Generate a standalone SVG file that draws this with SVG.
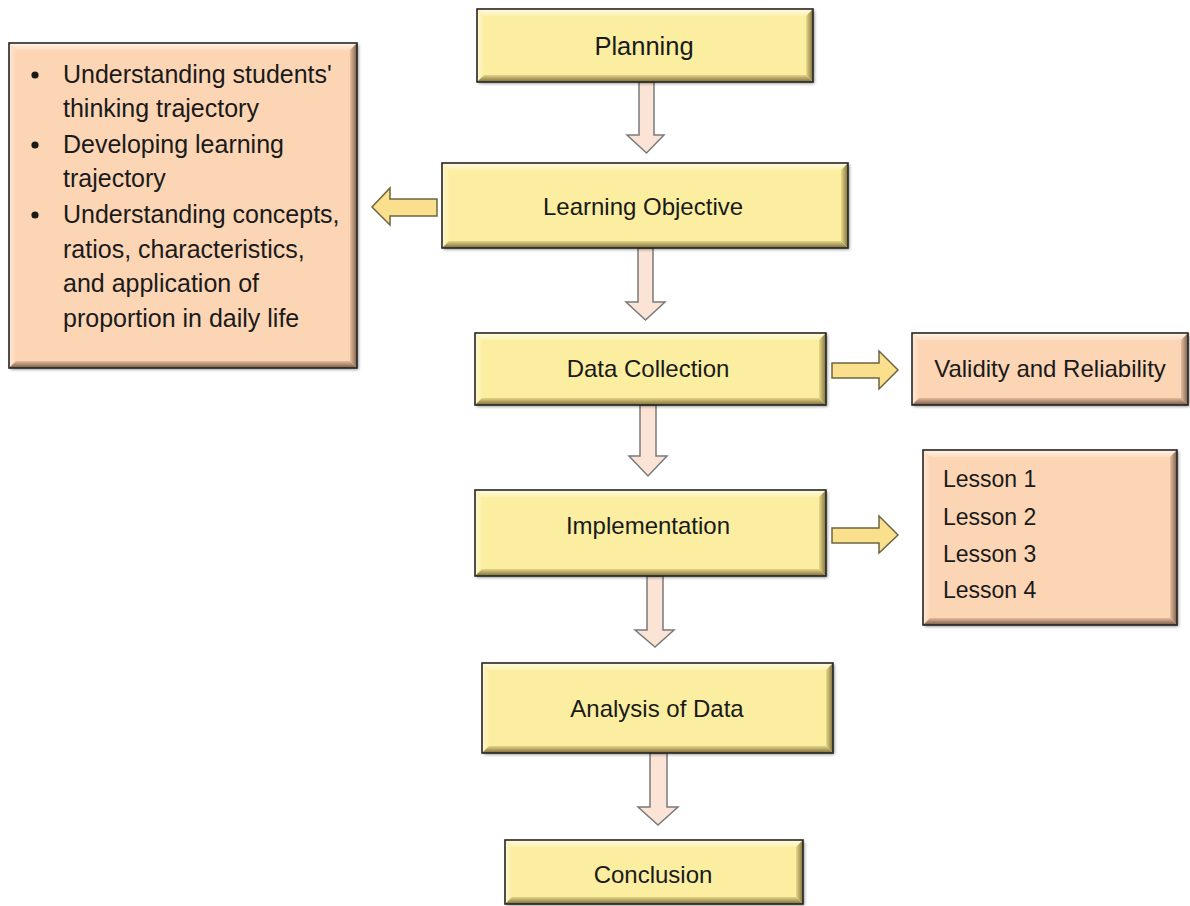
<svg xmlns="http://www.w3.org/2000/svg" width="1190" height="906" viewBox="0 0 1190 906">
<defs>
  <filter id="sh" x="-5%" y="-5%" width="115%" height="120%">
    <feDropShadow dx="1.5" dy="1.5" stdDeviation="1.5" flood-color="#000" flood-opacity="0.45"/>
  </filter>
  <linearGradient id="yT" x1="0" y1="0" x2="0" y2="1"><stop offset="0" stop-color="#FFFBE2"/><stop offset="1" stop-color="#FCF1B0"/></linearGradient>
  <linearGradient id="yL" x1="0" y1="0" x2="1" y2="0"><stop offset="0" stop-color="#FEF7CF"/><stop offset="1" stop-color="#FBEFA6"/></linearGradient>
  <linearGradient id="yR" x1="0" y1="0" x2="1" y2="0"><stop offset="0" stop-color="#EADA8A"/><stop offset="1" stop-color="#7E703C"/></linearGradient>
  <linearGradient id="yB" x1="0" y1="0" x2="0" y2="1"><stop offset="0" stop-color="#E6D587"/><stop offset="1" stop-color="#7A6C3A"/></linearGradient>
  <linearGradient id="pT" x1="0" y1="0" x2="0" y2="1"><stop offset="0" stop-color="#FFF4E8"/><stop offset="1" stop-color="#FDDCC0"/></linearGradient>
  <linearGradient id="pL" x1="0" y1="0" x2="1" y2="0"><stop offset="0" stop-color="#FEE8D6"/><stop offset="1" stop-color="#FCD6B7"/></linearGradient>
  <linearGradient id="pR" x1="0" y1="0" x2="1" y2="0"><stop offset="0" stop-color="#E8BF9E"/><stop offset="1" stop-color="#7C5F4C"/></linearGradient>
  <linearGradient id="pB" x1="0" y1="0" x2="0" y2="1"><stop offset="0" stop-color="#E5BC9B"/><stop offset="1" stop-color="#765A48"/></linearGradient>
</defs>
<style>
  .yb { fill: #FBEEA0; }
  .pb { fill: #FCD5B5; }
  .frame { fill: none; stroke: #262626; stroke-width: 1.6; }
  .t { font-family: "Liberation Sans", Arial, sans-serif; font-size: 24px; fill: #1a1a1a; }
  .big { font-size: 25.5px; }
  .lst { font-size: 25px; }
  .les { font-size: 23px; }
  .c { text-anchor: middle; }
  .down { fill: #FBE4D6; stroke: #7A7A7A; stroke-width: 1.5; stroke-linejoin: miter; }
  .side { fill: #FADF8C; stroke: #6E6640; stroke-width: 1.5; }
</style>

<g id="connectors">
  <polygon class="down" points="639,82 654,82 654,135 664,135 646.5,153 627,135 639,135"/>
  <polygon class="down" points="638,248 653,248 653,302 665,302 645.5,320 626,302 638,302"/>
  <polygon class="down" points="640,405 656,405 656,456 667,456 648,476 629,456 640,456"/>
  <polygon class="down" points="647,576 663,576 663,630 674,630 655,647 635,630 647,630"/>
  <polygon class="down" points="650,753 667,753 667,807 678,807 658,825 638,807 650,807"/>
  <polygon class="side" points="437,199 437,216 390,216 390,225 372,207 390,188 390,199"/>
  <polygon class="side" points="832,363 879,363 879,351 898,370 879,389 879,378 832,378"/>
  <polygon class="side" points="832,528 879,528 879,516 898,535 879,553 879,543 832,543"/>
</g>

<g id="planning">
  <rect class="yb" x="477" y="9" width="336" height="73" filter="url(#sh)"/>
  <polygon fill="url(#yT)" points="477,9 813,9 806,16 484,16"/>
  <polygon fill="url(#yL)" points="477,9 484,16 484,75 477,82"/>
  <polygon fill="url(#yR)" points="813,9 813,82 806,75 806,16"/>
  <polygon fill="url(#yB)" points="477,82 484,75 806,75 813,82"/>
  <rect class="frame" x="477" y="9" width="336" height="73"/>
  <text class="t big c" x="644" y="55">Planning</text>
</g>

<g id="learning-objective">
  <rect class="yb" x="442" y="163" width="406" height="85" filter="url(#sh)"/>
  <polygon fill="url(#yT)" points="442,163 848,163 841,170 449,170"/>
  <polygon fill="url(#yL)" points="442,163 449,170 449,241 442,248"/>
  <polygon fill="url(#yR)" points="848,163 848,248 841,241 841,170"/>
  <polygon fill="url(#yB)" points="442,248 449,241 841,241 848,248"/>
  <rect class="frame" x="442" y="163" width="406" height="85"/>
  <text class="t c" x="643" y="215">Learning Objective</text>
</g>

<g id="objectives-list">
  <rect class="pb" x="9" y="43" width="348" height="325" filter="url(#sh)"/>
  <polygon fill="url(#pT)" points="9,43 357,43 350,50 16,50"/>
  <polygon fill="url(#pL)" points="9,43 16,50 16,361 9,368"/>
  <polygon fill="url(#pR)" points="357,43 357,368 350,361 350,50"/>
  <polygon fill="url(#pB)" points="9,368 16,361 350,361 357,368"/>
  <rect class="frame" x="9" y="43" width="348" height="325"/>
  <circle cx="35" cy="75" r="3.6" fill="#1a1a1a"/>
  <circle cx="35" cy="145" r="3.6" fill="#1a1a1a"/>
  <circle cx="35" cy="215" r="3.6" fill="#1a1a1a"/>
  <text class="t lst" x="63" y="83">Understanding students'</text>
  <text class="t lst" x="63" y="117">thinking trajectory</text>
  <text class="t lst" x="63" y="153">Developing learning</text>
  <text class="t lst" x="63" y="187">trajectory</text>
  <text class="t lst" x="63" y="223">Understanding concepts,</text>
  <text class="t lst" x="63" y="258">ratios, characteristics,</text>
  <text class="t lst" x="63" y="292">and application of</text>
  <text class="t lst" x="63" y="327">proportion in daily life</text>
</g>

<g id="data-collection">
  <rect class="yb" x="475" y="333" width="351" height="72" filter="url(#sh)"/>
  <polygon fill="url(#yT)" points="475,333 826,333 819,340 482,340"/>
  <polygon fill="url(#yL)" points="475,333 482,340 482,398 475,405"/>
  <polygon fill="url(#yR)" points="826,333 826,405 819,398 819,340"/>
  <polygon fill="url(#yB)" points="475,405 482,398 819,398 826,405"/>
  <rect class="frame" x="475" y="333" width="351" height="72"/>
  <text class="t c" x="648" y="377">Data Collection</text>
</g>

<g id="validity">
  <rect class="pb" x="912" y="333" width="276" height="72" filter="url(#sh)"/>
  <polygon fill="url(#pT)" points="912,333 1188,333 1181,340 919,340"/>
  <polygon fill="url(#pL)" points="912,333 919,340 919,398 912,405"/>
  <polygon fill="url(#pR)" points="1188,333 1188,405 1181,398 1181,340"/>
  <polygon fill="url(#pB)" points="912,405 919,398 1181,398 1188,405"/>
  <rect class="frame" x="912" y="333" width="276" height="72"/>
  <text class="t c" x="1050" y="377">Validity and Reliability</text>
</g>

<g id="implementation">
  <rect class="yb" x="475" y="490" width="351" height="86" filter="url(#sh)"/>
  <polygon fill="url(#yT)" points="475,490 826,490 819,497 482,497"/>
  <polygon fill="url(#yL)" points="475,490 482,497 482,569 475,576"/>
  <polygon fill="url(#yR)" points="826,490 826,576 819,569 819,497"/>
  <polygon fill="url(#yB)" points="475,576 482,569 819,569 826,576"/>
  <rect class="frame" x="475" y="490" width="351" height="86"/>
  <text class="t c" x="648" y="534">Implementation</text>
</g>

<g id="lessons">
  <rect class="pb" x="923" y="450" width="254" height="175" filter="url(#sh)"/>
  <polygon fill="url(#pT)" points="923,450 1177,450 1170,457 930,457"/>
  <polygon fill="url(#pL)" points="923,450 930,457 930,618 923,625"/>
  <polygon fill="url(#pR)" points="1177,450 1177,625 1170,618 1170,457"/>
  <polygon fill="url(#pB)" points="923,625 930,618 1170,618 1177,625"/>
  <rect class="frame" x="923" y="450" width="254" height="175"/>
  <text class="t les" x="943" y="487">Lesson 1</text>
  <text class="t les" x="943" y="525">Lesson  2</text>
  <text class="t les" x="943" y="562">Lesson 3</text>
  <text class="t les" x="943" y="598">Lesson 4</text>
</g>

<g id="analysis">
  <rect class="yb" x="482" y="663" width="351" height="90" filter="url(#sh)"/>
  <polygon fill="url(#yT)" points="482,663 833,663 826,670 489,670"/>
  <polygon fill="url(#yL)" points="482,663 489,670 489,746 482,753"/>
  <polygon fill="url(#yR)" points="833,663 833,753 826,746 826,670"/>
  <polygon fill="url(#yB)" points="482,753 489,746 826,746 833,753"/>
  <rect class="frame" x="482" y="663" width="351" height="90"/>
  <text class="t c" x="657" y="717">Analysis of Data</text>
</g>

<g id="conclusion">
  <rect class="yb" x="505" y="840" width="298" height="64" filter="url(#sh)"/>
  <polygon fill="url(#yT)" points="505,840 803,840 796,847 512,847"/>
  <polygon fill="url(#yL)" points="505,840 512,847 512,897 505,904"/>
  <polygon fill="url(#yR)" points="803,840 803,904 796,897 796,847"/>
  <polygon fill="url(#yB)" points="505,904 512,897 796,897 803,904"/>
  <rect class="frame" x="505" y="840" width="298" height="64"/>
  <text class="t c" x="653" y="883">Conclusion</text>
</g>
</svg>
